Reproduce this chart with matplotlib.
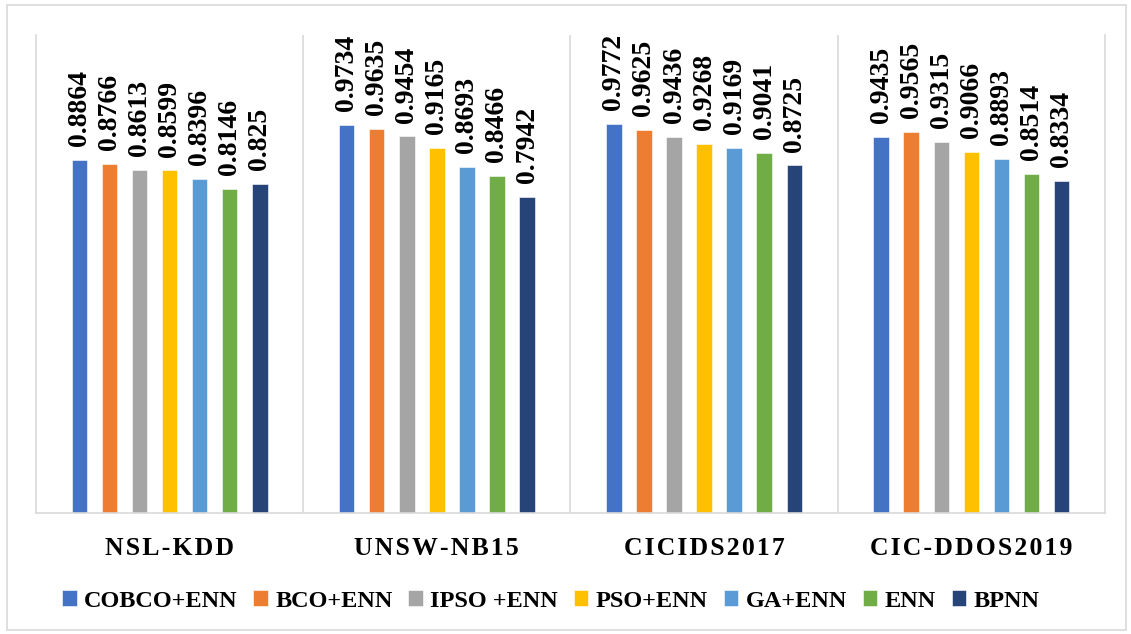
import numpy as np
import matplotlib.pyplot as plt
from matplotlib.patches import Rectangle

plt.rcParams['font.family'] = ['Liberation Serif', 'DejaVu Serif']
plt.rcParams['font.weight'] = 'bold'

datasets = ["NSL-KDD", "UNSW-NB15", "CICIDS2017", "CIC-DDOS2019"]
methods = ["COBCO+ENN", "BCO+ENN", "IPSO +ENN", "PSO+ENN", "GA+ENN", "ENN", "BPNN"]
colors = ["#4472C4", "#ED7D31", "#A5A5A5", "#FFC000", "#5B9BD5", "#70AD47", "#264478"]

cobco = [0.8864, 0.9734, 0.9772, 0.9435]
bco = [0.8766, 0.9635, 0.9625, 0.9565]
ipso = [0.8613, 0.9454, 0.9436, 0.9315]
pso = [0.8599, 0.9165, 0.9268, 0.9066]
ga = [0.8396, 0.8693, 0.9169, 0.8893]
enn = [0.8146, 0.8466, 0.9041, 0.8514]
bpnn = [0.825, 0.7942, 0.8725, 0.8334]
series = [cobco, bco, ipso, pso, ga, enn, bpnn]

fig = plt.figure(figsize=(11.31, 6.34), dpi=100)
# light frame round the whole chart
fig.patches.append(Rectangle((0.006, 0.006), 0.99, 0.986, transform=fig.transFigure,
                             fill=False, edgecolor="#D9D9D9", linewidth=1.2))
ax = fig.add_axes([0.0318, 0.1909, 0.9452, 0.7539])

x = np.arange(len(datasets))
pitch = 0.1125
width = 0.058
for i, (vals, name, c) in enumerate(zip(series, methods, colors)):
    pos = x + (i - 3) * pitch
    bars = ax.bar(pos, vals, width, color=c, label=name, edgecolor="white", linewidth=0.4)
    for b, v in zip(bars, vals):
        ax.annotate(f"{v:g}", (b.get_x() + b.get_width() / 2, b.get_height()),
                    xytext=(0, 10), textcoords="offset points",
                    ha="center", va="bottom", rotation=90,
                    fontsize=20, fontweight="bold")

ax.set_xlim(-0.5, 3.5)
ax.set_ylim(0, 1.2)
ax.set_yticks([])
for sep in [0.5, 1.5, 2.5]:
    ax.axvline(sep, color="#D9D9D9", linewidth=1.2)
for s in ["left", "right", "bottom"]:
    ax.spines[s].set_color("#D9D9D9")
    ax.spines[s].set_linewidth(1.2)
ax.spines["top"].set_visible(False)

# dataset names are letter-spaced
ax.set_xticks(x)
ax.set_xticklabels(["\u200a".join(d) for d in datasets], fontsize=18.5, fontweight="bold")
ax.tick_params(axis="x", length=0, pad=17)

fig.legend(loc="center", bbox_to_anchor=(0.487, 0.052), ncol=7, frameon=False,
           prop={"size": 17.5, "weight": "bold"}, handlelength=0.6, handleheight=0.6,
           handletextpad=0.3, columnspacing=0.65)

fig.savefig("out.png", dpi=100)
